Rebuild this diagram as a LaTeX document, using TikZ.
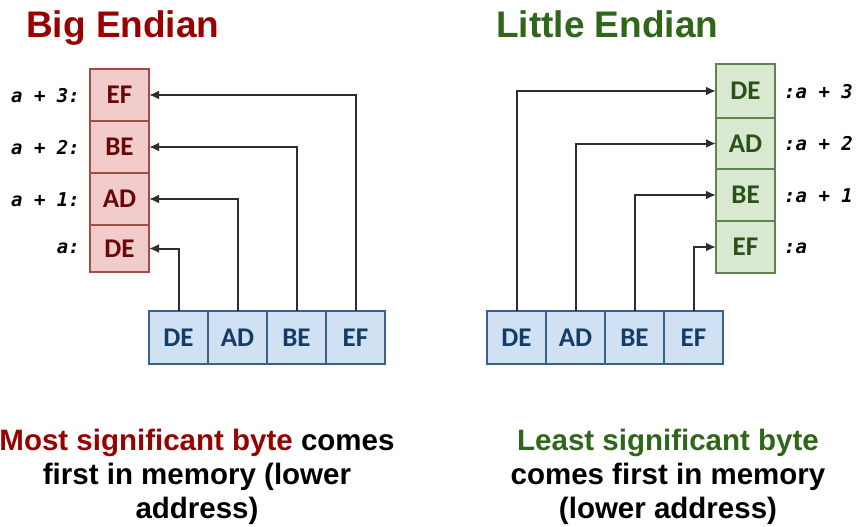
\documentclass[tikz,border=0pt]{standalone}
\usepackage{fontspec}
\setmainfont{Liberation Sans}
\newfontfamily\cellfont{Carlito}
\newfontfamily\labfont{DejaVu Sans Mono}
\usetikzlibrary{arrows.meta}
\definecolor{tred}{HTML}{990000}
\definecolor{tgreen}{HTML}{2F661A}
\definecolor{redfill}{HTML}{F2CBCB}
\definecolor{reddraw}{HTML}{A34A4A}
\definecolor{redtext}{HTML}{6A0606}
\definecolor{greenfill}{HTML}{D9E9D1}
\definecolor{greendraw}{HTML}{5E8450}
\definecolor{greentext}{HTML}{2A5218}
\definecolor{bluefill}{HTML}{CFE1F2}
\definecolor{bluedraw}{HTML}{3D6088}
\definecolor{bluetext}{HTML}{143C66}
\definecolor{linecol}{HTML}{2E2E2E}
\tikzset{
  cellbase/.style={draw, line width=1.8pt, outer sep=0pt, inner sep=0pt,
    minimum width=59pt, font=\cellfont\bfseries\fontsize{27}{27}\selectfont},
  redcell/.style={cellbase, fill=redfill, draw=reddraw, text=redtext},
  greencell/.style={cellbase, fill=greenfill, draw=greendraw, text=greentext},
  bluecell/.style={cellbase, fill=bluefill, draw=bluedraw, text=bluetext, minimum height=53pt},
  conn/.style={draw=linecol, line width=2pt, -{Latex[length=10pt,width=9pt]}},
  addr/.style={font=\labfont\bfseries\itshape\fontsize{19}{19}\selectfont, text=black, inner sep=0pt},
  title/.style={font=\bfseries\fontsize{37}{37}\selectfont, inner sep=0pt, anchor=base west},
  caption/.style={font=\bfseries\fontsize{29.5}{34}\selectfont, align=center, inner sep=0pt, anchor=north}
}
\begin{document}
\begin{tikzpicture}[x=1pt,y=-1pt]
\useasboundingbox (0,0) rectangle (863,527);
\fill[white] (0,0) rectangle (863,527);

% titles
\node[title, text=tred] (t1) at (26,38) {Big Endian};
\node[title, text=tgreen] (t2) at (496,38) {Little Endian};

% big endian memory
\node[redcell, minimum height=52pt] (rEF) at (119.5,95) {EF};
\node[redcell, minimum height=52pt] (rBE) at (119.5,147) {BE};
\node[redcell, minimum height=52pt] (rAD) at (119.5,199) {AD};
\node[redcell, minimum height=47pt] (rDE) at (119.5,248.5) {DE};

\node[addr, anchor=east] (la3) at (80,96) {a + 3:};
\node[addr, anchor=east] (la2) at (80,148) {a + 2:};
\node[addr, anchor=east] (la1) at (80,200) {a + 1:};
\node[addr, anchor=east] (la0) at (80,248) {a:};

% big endian word
\node[bluecell] (b1) at (178.5,337.5) {DE};
\node[bluecell] (b2) at (237.5,337.5) {AD};
\node[bluecell] (b3) at (296.5,337.5) {BE};
\node[bluecell] (b4) at (355.5,337.5) {EF};

\draw[conn] (b1.north) |- (rDE.east);
\draw[conn] (b2.north) |- (rAD.east);
\draw[conn] (b3.north) |- (rBE.east);
\draw[conn] (b4.north) |- (rEF.east);

% little endian memory
\node[greencell, minimum height=54pt] (gDE) at (745.5,91) {DE};
\node[greencell, minimum height=51pt] (gAD) at (745.5,143.5) {AD};
\node[greencell, minimum height=52pt] (gBE) at (745.5,195) {BE};
\node[greencell, minimum height=52pt] (gEF) at (745.5,247) {EF};

\node[addr, anchor=west] (ra3) at (784,92) {:a + 3};
\node[addr, anchor=west] (ra2) at (784,144) {:a + 2};
\node[addr, anchor=west] (ra1) at (784,196) {:a + 1};
\node[addr, anchor=west] (ra0) at (784,248) {:a};

% little endian word
\node[bluecell] (c1) at (516.5,337.5) {DE};
\node[bluecell] (c2) at (575.5,337.5) {AD};
\node[bluecell] (c3) at (634.5,337.5) {BE};
\node[bluecell] (c4) at (693.5,337.5) {EF};

\draw[conn] (c1.north) |- (gDE.west);
\draw[conn] (c2.north) |- (gAD.west);
\draw[conn] (c3.north) |- (gBE.west);
\draw[conn] (c4.north) |- (gEF.west);

% captions
\node[caption] (cap1) at (197,429) {\textcolor{tred}{Most significant byte} comes\\first in memory (lower\\address)};
\node[caption] (cap2) at (668,429) {\textcolor{tgreen}{Least significant byte}\\comes first in memory\\(lower address)};
\end{tikzpicture}
\end{document}
